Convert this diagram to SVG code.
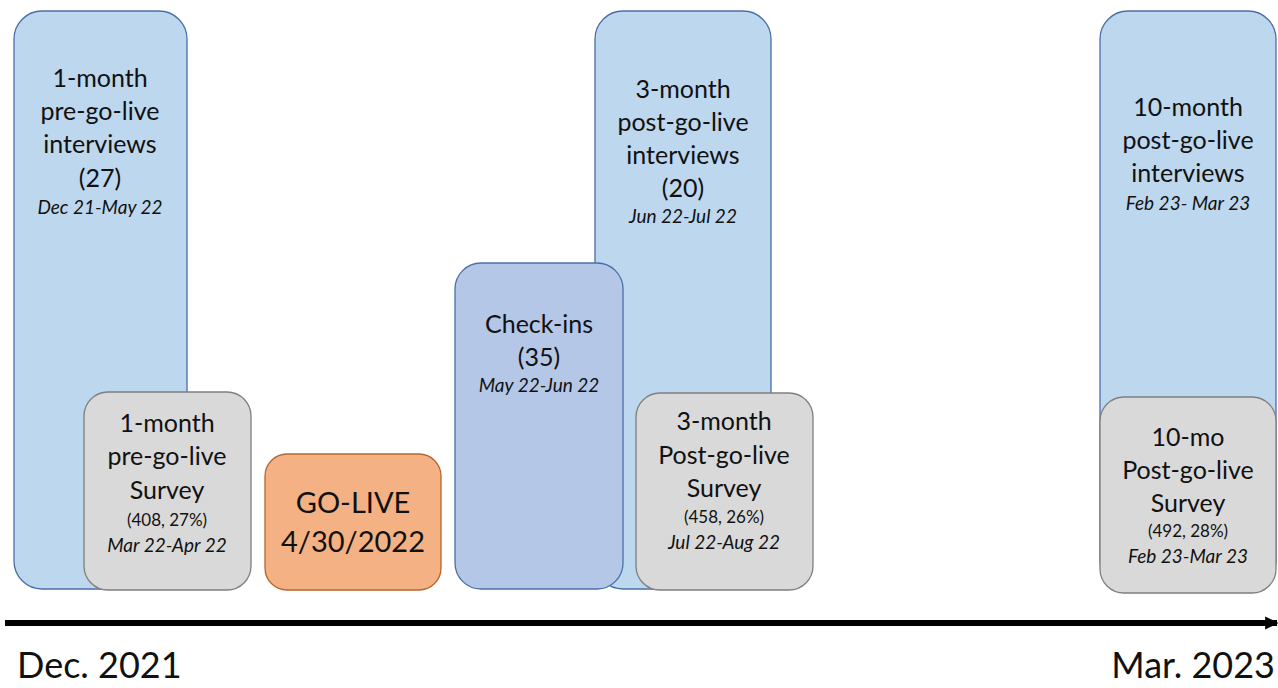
<svg xmlns="http://www.w3.org/2000/svg" width="1278" height="688" viewBox="0 0 1278 688">
<defs>
<style>
.blue{fill:#BDD7EE;stroke:#4A6FA8;stroke-width:1.3}
.chk{fill:#B4C7E7;stroke:#4A6FA8;stroke-width:1.3}
.gray{fill:#D9D9D9;stroke:#7F7F7F;stroke-width:1.3}
.orange{fill:#F4B183;stroke:#B5652E;stroke-width:1.3}
text{font-family:Lato,"Open Sans","Liberation Sans",sans-serif;fill:#111;text-anchor:middle}
.t{font-size:25px}
.s{font-size:17px}
.i{font-size:19px;font-style:italic}
.g{font-size:29px}
.ax{font-size:36px;text-anchor:start}
</style>
<marker id="arr" viewBox="0 0 10 10" refX="9" refY="5" markerWidth="2.2" markerHeight="3" orient="auto" markerUnits="strokeWidth">
<path d="M0,0 L10,5 L0,10 z" fill="#000"/>
</marker>
</defs>
<g id="int1">
<rect class="blue" x="14" y="11" width="173" height="578" rx="28"/>
<text class="t" x="100" y="87">1-month</text>
<text class="t" x="100" y="120">pre-go-live</text>
<text class="t" x="100" y="153">interviews</text>
<text class="t" x="100" y="187">(27)</text>
<text class="i" x="100" y="214">Dec 21-May 22</text>
</g>
<g id="survey1">
<rect class="gray" x="84" y="392" width="167" height="198" rx="24"/>
<text class="t" x="167" y="432">1-month</text>
<text class="t" x="167" y="465">pre-go-live</text>
<text class="t" x="167" y="499">Survey</text>
<text class="s" x="167" y="526">(408, 27%)</text>
<text class="i" x="167" y="552">Mar 22-Apr 22</text>
</g>
<g id="golive">
<rect class="orange" x="265" y="454" width="176" height="136" rx="22"/>
<text class="g" x="353" y="513">GO-LIVE</text>
<text class="g" x="353" y="552">4/30/2022</text>
</g>
<g id="int3">
<rect class="blue" x="595" y="11" width="176" height="578" rx="28"/>
<text class="t" x="683" y="98">3-month</text>
<text class="t" x="683" y="131">post-go-live</text>
<text class="t" x="683" y="164">interviews</text>
<text class="t" x="683" y="197">(20)</text>
<text class="i" x="683" y="223">Jun 22-Jul 22</text>
</g>
<g id="checkins">
<rect class="chk" x="455" y="263" width="168" height="326" rx="26"/>
<text class="t" x="539" y="333">Check-ins</text>
<text class="t" x="539" y="366">(35)</text>
<text class="i" x="539" y="392">May 22-Jun 22</text>
</g>
<g id="survey3">
<rect class="gray" x="636" y="393" width="177" height="197" rx="24"/>
<text class="t" x="724" y="430">3-month</text>
<text class="t" x="724" y="464">Post-go-live</text>
<text class="t" x="724" y="497">Survey</text>
<text class="s" x="724" y="523">(458, 26%)</text>
<text class="i" x="724" y="549">Jul 22-Aug 22</text>
</g>
<g id="int10">
<rect class="blue" x="1100" y="11" width="176" height="578" rx="28"/>
<text class="t" x="1188" y="116">10-month</text>
<text class="t" x="1188" y="149">post-go-live</text>
<text class="t" x="1188" y="182">interviews</text>
<text class="i" x="1188" y="210">Feb 23- Mar 23</text>
</g>
<g id="survey10">
<rect class="gray" x="1100" y="397" width="176" height="196" rx="24"/>
<text class="t" x="1188" y="446">10-mo</text>
<text class="t" x="1188" y="479">Post-go-live</text>
<text class="t" x="1188" y="512">Survey</text>
<text class="s" x="1188" y="537">(492, 28%)</text>
<text class="i" x="1188" y="563">Feb 23-Mar 23</text>
</g>
<g id="connectors">
<line x1="5" y1="623" x2="1277" y2="623" stroke="#000" stroke-width="6" marker-end="url(#arr)"/>
</g>
<g id="axis-labels">
<text class="ax" x="17" y="678">Dec. 2021</text>
<text class="ax" x="1275" y="678" style="text-anchor:end">Mar. 2023</text>
</g>
</svg>
